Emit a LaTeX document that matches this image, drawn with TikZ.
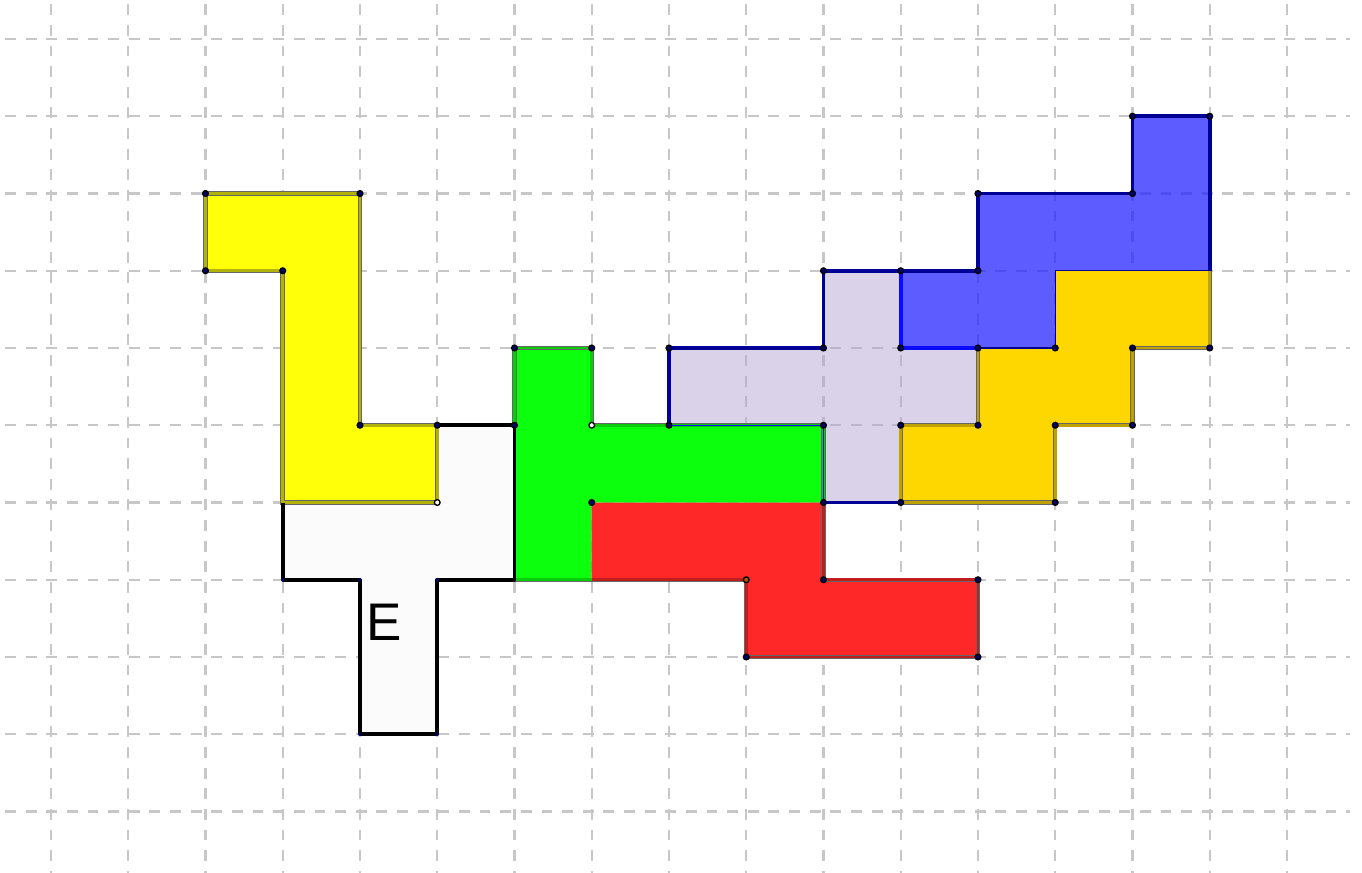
\documentclass[tikz,border=0pt]{standalone}
\usepackage{fontspec}
\setmainfont{Liberation Sans}
\definecolor{tileE}{RGB}{251,251,251}
\definecolor{tileyellow}{RGB}{255,255,10}
\definecolor{tilegreen}{RGB}{12,255,12}
\definecolor{tilered}{RGB}{255,40,40}
\definecolor{tilelilac}{RGB}{181,165,209}
\definecolor{tileblue}{RGB}{38,38,255}
\definecolor{tilegold}{RGB}{255,215,0}
\definecolor{navy}{RGB}{0,0,150}
\definecolor{brightblue}{RGB}{10,10,255}
\definecolor{dotblue}{RGB}{0,0,110}

\begin{document}
\begin{tikzpicture}[
    x=1cm, y=-1cm,
    gridline/.style={draw=black!22, line width=0.75pt, dash pattern=on 4pt off 3.6pt},
    rim/.style={draw=black!60, line width=0.35pt, double=#1, double distance=0.95pt},
    edge/.style={line width=1.3pt, line join=round},
    thinedge/.style={line width=0.45pt},
    dot/.style={fill=dotblue, draw=black, line width=0.5pt},
    hollow/.style={fill=white, draw=black, line width=0.5pt}
]
\useasboundingbox (-0.660,-0.505) rectangle (16.971,10.790);

\foreach \r in {0,...,10}
  \draw[gridline] (-0.595,\r) -- (16.816,\r);
\foreach \c in {0,...,16}
  \draw[gridline] (\c,-0.45) -- (\c,10.79);

% fills
\fill[tileE] (3,6) -- (5,6) -- (5,5) -- (6,5) -- (6,7) -- (5,7) -- (5,9) -- (4,9) -- (4,7) -- (3,7) -- cycle;
\fill[tileyellow] (2,2) -- (4,2) -- (4,5) -- (5,5) -- (5,6) -- (3,6) -- (3,3) -- (2,3) -- cycle;
\fill[tilegreen] (6,4) -- (7,4) -- (7,5) -- (10,5) -- (10,6) -- (7,6) -- (7,7) -- (6,7) -- cycle;
\fill[tilered] (7,6) -- (10,6) -- (10,7) -- (12,7) -- (12,8) -- (9,8) -- (9,7) -- (7,7) -- cycle;
\fill[tilelilac, fill opacity=0.5] (8,4) -- (10,4) -- (10,3) -- (11,3) -- (11,4) -- (12,4) -- (12,5) -- (11,5) -- (11,6) -- (10,6) -- (10,5) -- (8,5) -- cycle;
\fill[tileblue, fill opacity=0.75] (11,3) -- (12,3) -- (12,2) -- (14,2) -- (14,1) -- (15,1) -- (15,3) -- (13,3) -- (13,4) -- (11,4) -- cycle;
\fill[tilegold] (13,3) -- (15,3) -- (15,4) -- (14,4) -- (14,5) -- (13,5) -- (13,6) -- (11,6) -- (11,5) -- (12,5) -- (12,4) -- (13,4) -- cycle;

% borders
\draw[rim=tileyellow!70!black] (2,2) -- (4,2) -- (4,5) -- (5,5) -- (5,6) -- (3,6) -- (3,3) -- (2,3) -- cycle;
\draw[rim=tilegreen!80!black] (6,5) -- (6,4) -- (7,4) -- (7,5) -- (10,5) -- (10,6);
\draw[rim=tilegreen!80!black] (6,7) -- (7,7);
\draw[rim=tilered!75!black] (7,7) -- (9,7) -- (9,8) -- (12,8) -- (12,7) -- (10,7) -- (10,6);
\draw[edge, black] (5,5) -- (6,5) -- (6,7) -- (5,7) -- (5,9) -- (4,9) -- (4,7) -- (3,7) -- (3,6);
\draw[thinedge, brightblue] (8,5) -- (10,5) -- (10,6);
\draw[edge, navy] (8,5) -- (8,4) -- (10,4) -- (10,3) -- (11,3) -- (12,3) -- (12,2) -- (14,2) -- (14,1) -- (15,1) -- (15,3);
\draw[edge, navy] (10,6) -- (11,6);
\draw[rim=tilegold!75!black] (15,3) -- (15,4) -- (14,4) -- (14,5) -- (13,5) -- (13,6) -- (11,6) -- (11,5) -- (12,5) -- (12,4);
\draw[thinedge, navy] (12,4) -- (13,4) -- (13,3) -- (15,3);
\draw[edge, brightblue] (11,3) -- (11,4) -- (12,4);

% points
\foreach \p in {{2,2},{4,2},{2,3},{3,3},{4,5},{5,5},{6,4},{7,4},{6,5},{7,6},
                {8,4},{10,4},{10,3},{11,3},{11,4},{12,4},{8,5},{10,5},{11,5},{12,5},{10,6},{11,6},
                {12,3},{12,2},{14,2},{14,1},{15,1},{13,4},{15,4},{14,4},{14,5},{13,5},{13,6},
                {10,7},{12,7},{12,8},{9,8}}
  \filldraw[dot] (\p) circle (1.05pt);
\foreach \p in {{3,7},{4,7},{5,7},{4,9},{5,9}}
  \fill[dotblue] (\p) circle (0.7pt);
\foreach \p in {{5,6},{7,5}}
  \filldraw[hollow] (\p) circle (1.05pt);
\filldraw[hollow, fill=orange!70!black] (9,7) circle (1.05pt);

\node[font=\fontsize{19.5}{22}\selectfont, inner sep=0pt] (labelE) at (4.31,7.55) {E};
\end{tikzpicture}
\end{document}
